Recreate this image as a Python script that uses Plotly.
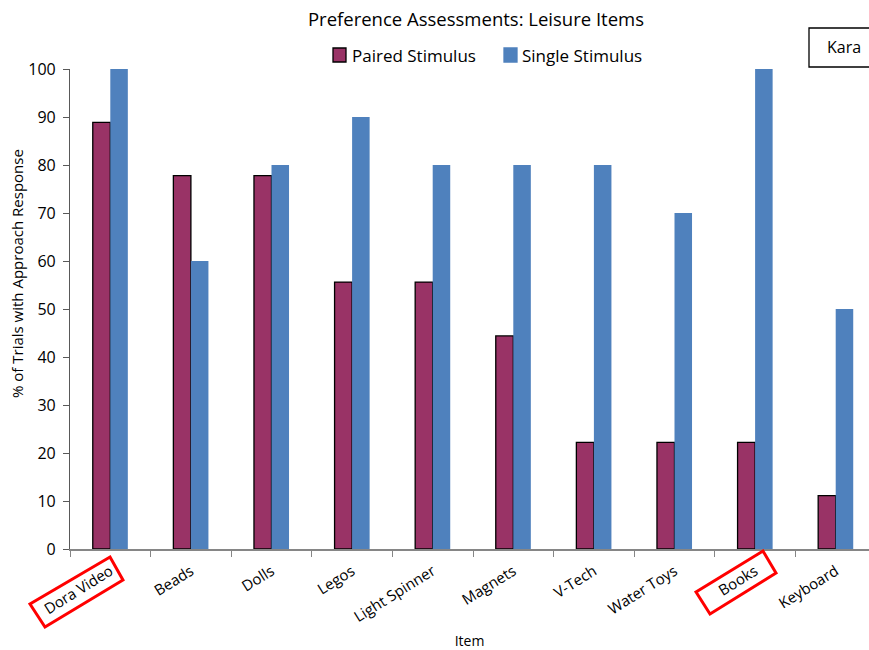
import plotly.graph_objects as go

items = ["Dora Video", "Beads", "Dolls", "Legos", "Light Spinner", "Magnets",
         "V-Tech", "Water Toys", "Books", "Keyboard"]
paired = [88.9, 77.8, 77.8, 55.6, 55.6, 44.4, 22.2, 22.2, 22.2, 11.1]
single = [100, 60, 80, 90, 80, 80, 80, 70, 100, 50]
y_ticks = list(range(0, 101, 10))
series_names = ["Paired Stimulus", "Single Stimulus"]
series_colors = ["#993366", "#4F81BD"]

# layout given in page pixels; body margin removed via post_script
W, H = 869, 650
ML, MT = 70, 69
PLOT_R = W
PLOT_B = 549
MR, MB = W - PLOT_R, H - PLOT_B
PW, PH = PLOT_R - ML, PLOT_B - MT
CAT_PX = 80.6
X_MAX = -0.5 + PW / CAT_PX

def px(x, y):
    """page pixel -> paper coords"""
    return (x - ML) / PW, (PLOT_B - y) / PH

def box_path(pts):
    s = ""
    for i, (x, y) in enumerate(pts):
        a, b = px(x, y)
        s += ("M" if i == 0 else "L") + f"{a:.4f},{b:.4f} "
    return s + "Z"

FONT = "Open Sans, Calibri, sans-serif"

fig = go.Figure()
fig.add_trace(go.Bar(name=series_names[0], x=items, y=paired,
                     marker=dict(color=series_colors[0], line=dict(color="black", width=1.3))))
fig.add_trace(go.Bar(name=series_names[1], x=items, y=single,
                     marker=dict(color=series_colors[1], line=dict(width=0))))

shapes = [
    dict(type="path", xref="paper", yref="paper",
         path=box_path([(30, 604), (45, 627), (123, 580), (110, 557)]),
         line=dict(color="#FF0000", width=3)),
    dict(type="path", xref="paper", yref="paper",
         path=box_path([(696, 592), (710, 614), (776, 573), (763, 551)]),
         line=dict(color="#FF0000", width=3)),
]
kx0, ky0 = px(809, 28)
kx1, ky1 = px(890, 67)
shapes.append(dict(type="rect", xref="paper", yref="paper", x0=kx0, x1=kx1, y0=ky1, y1=ky0,
                   line=dict(color="black", width=1.3), fillcolor="white", layer="above"))

annotations = [
    dict(text="Kara", xref="paper", yref="paper", x=px(825, 0)[0], y=px(0, 47)[1],
         xanchor="left", yanchor="middle", showarrow=False, font=dict(size=16)),
    dict(text="% of Trials with Approach Response", xref="paper", yref="paper",
         x=px(17, 0)[0], y=px(0, 274)[1], xanchor="center", yanchor="middle",
         textangle=-90, showarrow=False, font=dict(size=15)),
]

# manual legend
legend_items = [(333, 352), (504, 522)]
for (sx, tx), name, col in zip(legend_items, series_names, series_colors):
    a0, b0 = px(sx, 48)
    a1, b1 = px(sx + 13, 62)
    shapes.append(dict(type="rect", xref="paper", yref="paper", x0=a0, x1=a1, y0=b1, y1=b0,
                       fillcolor=col,
                       line=dict(color="black" if col == series_colors[0] else col, width=1.3)))
    annotations.append(dict(text=name, xref="paper", yref="paper", x=px(tx - 2, 0)[0],
                            y=px(0, 55)[1], xanchor="left", yanchor="middle",
                            showarrow=False, font=dict(size=17)))

fig.update_layout(
    width=W, height=H,
    margin=dict(l=ML, r=MR, t=MT, b=MB, autoexpand=False),
    paper_bgcolor="white", plot_bgcolor="white",
    barmode="group", bargap=0.565, bargroupgap=0,
    font=dict(family=FONT, size=14, color="black"),
    title=dict(text="Preference Assessments: Leisure Items", xref="paper", x=px(476, 0)[0],
               xanchor="center", yref="container", y=1 - 20 / H, yanchor="middle",
               font=dict(size=18.5)),
    showlegend=False,
    xaxis=dict(range=[-0.5, X_MAX], showline=True, linecolor="#868686", linewidth=1.5,
               ticks="outside", tickson="boundaries", ticklen=6, tickcolor="#868686",
               tickangle=-32, tickfont=dict(size=15), ticklabelstandoff=6,
               showgrid=False, automargin=False,
               title=dict(text="Item", font=dict(size=14), standoff=11)),
    yaxis=dict(range=[0, 100], tickvals=y_ticks, showline=True, linecolor="#595959", linewidth=1.2,
               ticks="outside", ticklen=6, tickcolor="#595959", tickfont=dict(size=16),
               ticklabelstandoff=4, showgrid=False, zeroline=False, automargin=False),
    shapes=shapes,
    annotations=annotations,
)

fig.write_html("out.html", config={"displayModeBar": False},
               post_script="document.body.style.margin='0';document.body.style.overflow='hidden';")
